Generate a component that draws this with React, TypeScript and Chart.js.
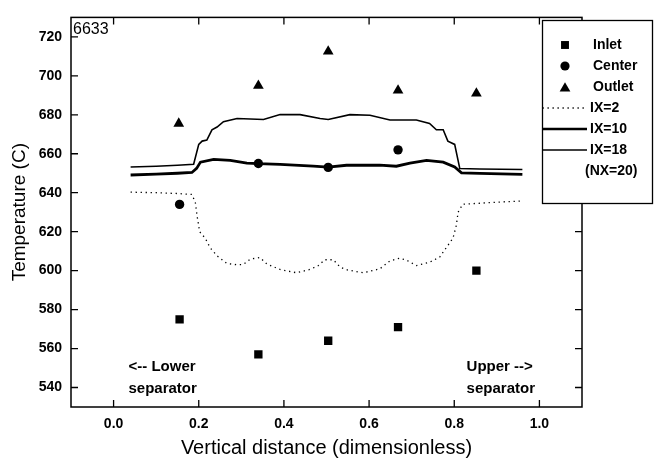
import React, { useEffect, useRef } from 'react';
import { Chart, registerables } from 'chart.js';

Chart.register(...registerables);

const FONT = '"Liberation Sans", Arial, Helvetica, sans-serif';

// ---- data ----
const inletX = [0.155, 0.34, 0.504, 0.668, 0.852];
const inletY = [575, 557, 564, 571, 600];
const centerX = [0.155, 0.34, 0.504, 0.668];
const centerY = [634, 655, 653, 662];
const outletX = [0.153, 0.34, 0.504, 0.668, 0.852];
const outletY = [675.5, 695, 712.5, 692.5, 691];

const ix2X = [0.04, 0.1, 0.15, 0.184, 0.192, 0.196, 0.202, 0.215, 0.227, 0.243, 0.266, 0.29, 0.305, 0.321, 0.344, 0.36, 0.391, 0.43, 0.461, 0.481, 0.496, 0.516, 0.532, 0.55, 0.586, 0.625, 0.649, 0.672, 0.688, 0.711, 0.742, 0.766, 0.781, 0.797, 0.805, 0.809, 0.82, 0.86, 0.914, 0.96];
const ix2Y = [640.3, 640.0, 639.6, 639.1, 635, 628.3, 620, 616.7, 611.7, 607.6, 603.7, 603, 603.2, 605.9, 606.7, 603.4, 600.6, 598.9, 600.6, 602.6, 605.6, 605.6, 601.8, 600.3, 598.9, 600.9, 605, 606.4, 605.4, 602.6, 604.3, 607, 611.7, 616.7, 623.3, 630, 634.1, 634.6, 635.3, 635.8];

const ix10X = [0.04, 0.1, 0.15, 0.184, 0.195, 0.204, 0.235, 0.274, 0.313, 0.34, 0.391, 0.469, 0.504, 0.547, 0.586, 0.625, 0.664, 0.696, 0.735, 0.774, 0.801, 0.817, 0.86, 0.96];
const ix10Y = [649.1, 649.5, 650, 650.4, 652.5, 655.7, 657.1, 656.6, 655.2, 654.9, 654.6, 653.6, 653.1, 654.1, 654.1, 654.2, 653.6, 655.2, 656.6, 655.7, 653.2, 650.2, 649.9, 649.4];

const ix18X = [0.04, 0.1, 0.15, 0.188, 0.2, 0.208, 0.219, 0.231, 0.243, 0.258, 0.29, 0.352, 0.391, 0.438, 0.485, 0.504, 0.555, 0.602, 0.649, 0.711, 0.742, 0.758, 0.774, 0.785, 0.801, 0.813, 0.86, 0.96];
const ix18Y = [653.2, 653.6, 654.1, 654.6, 664.8, 666.5, 667, 672.3, 673.7, 676.5, 678.1, 677.6, 680.1, 680.1, 678.1, 677.6, 680.1, 679.8, 677.3, 677.3, 675.6, 672.3, 672.3, 666.5, 664.8, 652.4, 652.2, 651.9];

const xTickValues = [0, 0.2, 0.4, 0.6, 0.8, 1.0];
const xTickLabels = ['0.0', '0.2', '0.4', '0.6', '0.8', '1.0'];
const yTickValues = [540, 560, 580, 600, 620, 640, 660, 680, 700, 720];

const legendItems = ['Inlet', 'Center', 'Outlet', 'IX=2', 'IX=10', 'IX=18'];
const legendNote = '(NX=20)';
const cornerLabel = '6633';

const pts = (xs: number[], ys: number[]) => xs.map((x, i) => ({ x, y: ys[i] }));

function drawMarker(ctx: CanvasRenderingContext2D, kind: string, x: number, y: number, r: number) {
  ctx.beginPath();
  if (kind === 'rect') {
    const s = Math.SQRT1_2 * r;
    ctx.rect(x - s, y - s, 2 * s, 2 * s);
  } else if (kind === 'circle') {
    ctx.arc(x, y, r, 0, Math.PI * 2);
  } else {
    let rad = 0;
    ctx.moveTo(x + Math.sin(rad) * r, y - Math.cos(rad) * r);
    rad += (2 * Math.PI) / 3;
    ctx.lineTo(x + Math.sin(rad) * r, y - Math.cos(rad) * r);
    rad += (2 * Math.PI) / 3;
    ctx.lineTo(x + Math.sin(rad) * r, y - Math.cos(rad) * r);
    ctx.closePath();
  }
  ctx.fill();
}

const overlayPlugin = {
  id: 'overlay',
  afterDraw(chart: any) {
    const { ctx, chartArea } = chart;
    const { left, right, top, bottom } = chartArea;
    const xs = chart.scales.x;
    const ys = chart.scales.y;
    ctx.save();
    ctx.strokeStyle = '#000';
    ctx.fillStyle = '#000';
    ctx.lineWidth = 1.5;
    ctx.strokeRect(left, top, right - left, bottom - top);
    ctx.lineWidth = 1.3;
    ctx.beginPath();
    for (const t of xs.ticks) {
      const px = xs.getPixelForValue(t.value);
      if (px <= left + 1 || px >= right - 1) continue;
      const len = t.label != null ? 7 : 4;
      ctx.moveTo(px, bottom);
      ctx.lineTo(px, bottom - len);
      ctx.moveTo(px, top);
      ctx.lineTo(px, top + len);
    }
    for (const t of ys.ticks) {
      const py = ys.getPixelForValue(t.value);
      if (py <= top + 1 || py >= bottom - 1) continue;
      const len = t.label != null ? 7 : 4;
      ctx.moveTo(left, py);
      ctx.lineTo(left + len, py);
      ctx.moveTo(right, py);
      ctx.lineTo(right - len, py);
    }
    ctx.stroke();

    // corner label
    ctx.font = `16px ${FONT}`;
    ctx.textBaseline = 'middle';
    ctx.textAlign = 'left';
    ctx.fillText(cornerLabel, left + 2, top + 12);

    // separator annotations
    ctx.font = `bold 15px ${FONT}`;
    const lx = xs.getPixelForValue(0.035);
    const ux = xs.getPixelForValue(0.829);
    const y1 = ys.getPixelForValue(550.6);
    const y2 = ys.getPixelForValue(539.2);
    ctx.fillText('<-- Lower', lx, y1);
    ctx.fillText('separator', lx, y2);
    ctx.fillText('Upper -->', ux, y1);
    ctx.fillText('separator', ux, y2);

    // legend
    const bx = 542.5, by = 20.5, bw = 110, bh = 183;
    ctx.fillStyle = '#fff';
    ctx.fillRect(bx, by, bw, bh);
    ctx.strokeStyle = '#000';
    ctx.lineWidth = 1.3;
    ctx.strokeRect(bx, by, bw, bh);
    ctx.fillStyle = '#000';
    const rows = [45, 66, 87, 108, 129, 150];
    ctx.font = `bold 14px ${FONT}`;
    drawMarker(ctx, 'rect', 565, rows[0], 5.6);
    drawMarker(ctx, 'circle', 565, rows[1], 4.6);
    drawMarker(ctx, 'triangle', 565, rows[2] + 1.5, 6.2);
    for (let i = 0; i < 3; i++) ctx.fillText(legendItems[i], 593, rows[i]);
    const widths = [1.3, 2.6, 1.6];
    for (let i = 0; i < 3; i++) {
      ctx.lineWidth = widths[i];
      ctx.setLineDash(i === 0 ? [1.3, 3.7] : []);
      ctx.beginPath();
      ctx.moveTo(bx, rows[3 + i]);
      ctx.lineTo(587, rows[3 + i]);
      ctx.stroke();
      ctx.setLineDash([]);
      ctx.fillText(legendItems[3 + i], 590, rows[3 + i]);
    }
    ctx.fillText(legendNote, 585, 171);
    ctx.restore();
  },
};

export default function App() {
  const ref = useRef<HTMLCanvasElement | null>(null);
  useEffect(() => {
    if (!ref.current) return;
    const lineDs = (label: string, xs: number[], ys: number[], w: number, dash: number[]) => ({
      label,
      data: pts(xs, ys),
      showLine: true,
      pointRadius: 0,
      borderColor: '#000',
      backgroundColor: '#000',
      borderWidth: w,
      borderDash: dash,
      tension: 0,
      fill: false,
    });
    const ptDs = (label: string, xs: number[], ys: number[], style: string, r: number) => ({
      label,
      data: pts(xs, ys),
      showLine: false,
      pointStyle: style,
      pointRadius: r,
      pointHoverRadius: r,
      backgroundColor: '#000',
      borderColor: '#000',
      borderWidth: 0,
    });
    const chart = new Chart(ref.current, {
      type: 'scatter',
      data: {
        datasets: [
          lineDs('IX=2', ix2X, ix2Y, 1.3, [1.3, 3.7]),
          lineDs('IX=10', ix10X, ix10Y, 2.8, []),
          lineDs('IX=18', ix18X, ix18Y, 1.6, []),
          ptDs('Inlet', inletX, inletY, 'rect', 5.9),
          ptDs('Center', centerX, centerY, 'circle', 4.7),
          ptDs('Outlet', outletX, outletY, 'triangle', 6.2),
        ] as any,
      },
      options: {
        animation: false,
        responsive: false,
        maintainAspectRatio: false,
        devicePixelRatio: 1,
        layout: { padding: { top: 6, right: 72, bottom: 0, left: 0 } },
        plugins: { legend: { display: false }, tooltip: { enabled: false } },
        scales: {
          x: {
            type: 'linear',
            min: -0.1,
            max: 1.1,
            grid: { display: false, drawTicks: false },
            border: { display: false },
            ticks: {
              stepSize: 0.1,
              autoSkip: false,
              maxRotation: 0,
              padding: 9,
              color: '#000',
              font: { family: FONT, size: 14, weight: 'bold' },
              callback: (v: any) => {
                const idx = xTickValues.findIndex((t) => Math.abs(t - Number(v)) < 1e-6);
                return idx >= 0 ? xTickLabels[idx] : null;
              },
            },
            title: {
              display: true,
              text: 'Vertical distance (dimensionless)',
              color: '#000',
              font: { family: FONT, size: 20 },
              padding: { top: 0, bottom: 2 },
            },
            afterFit: (s: any) => {
              s.height = 55;
            },
          },
          y: {
            type: 'linear',
            min: 530,
            max: 730,
            grid: { display: false, drawTicks: false },
            border: { display: false },
            ticks: {
              stepSize: 10,
              autoSkip: false,
              padding: 9,
              color: '#000',
              font: { family: FONT, size: 14, weight: 'bold' },
              callback: (v: any) => (yTickValues.includes(Number(v)) ? String(v) : null),
            },
            title: {
              display: true,
              text: 'Temperature (C)',
              color: '#000',
              font: { family: FONT, size: 19 },
              padding: { top: 8, bottom: 0 },
            },
            afterFit: (s: any) => {
              s.width = 71;
            },
          },
        },
      } as any,
      plugins: [overlayPlugin],
    });
    return () => chart.destroy();
  }, []);
  return (
    <div style={{ position: 'fixed', left: 0, top: 0, width: 654, height: 462, background: '#fff' }}>
      <canvas ref={ref} width={654} height={462} style={{ display: 'block', width: 654, height: 462 }} />
    </div>
  );
}
